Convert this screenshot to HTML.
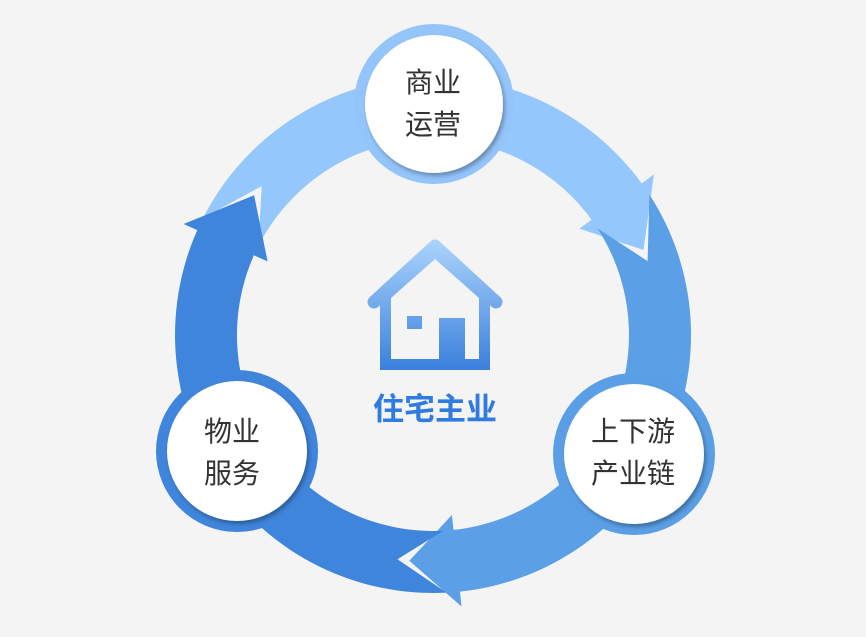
<!DOCTYPE html>
<html><head><meta charset="utf-8">
<style>
html,body{margin:0;padding:0;background:#f4f4f4;}
body{width:866px;height:632px;overflow:hidden;}
svg text{font-family:"Liberation Sans","Noto Sans CJK SC",sans-serif;}
</style></head>
<body>
<svg id="s" width="866" height="632" viewBox="0 0 866 632" xmlns="http://www.w3.org/2000/svg">
<defs>
<linearGradient id="hg" x1="0" y1="0" x2="0" y2="1">
<stop offset="0" stop-color="#a9d2fb"/><stop offset="1" stop-color="#3a80dc"/>
</linearGradient>
<linearGradient id="hg2" gradientUnits="userSpaceOnUse" x1="0" y1="243" x2="0" y2="370">
<stop offset="0" stop-color="#a9d2fb"/><stop offset="1" stop-color="#3a80dc"/>
</linearGradient>
<filter id="sh" x="-20%" y="-20%" width="140%" height="140%">
<feDropShadow dx="2" dy="3" stdDeviation="2" flood-color="#000" flood-opacity="0.3"/>
</filter>
</defs>
<g id="arcs"></g>

<!-- house -->
<g fill="none" stroke="url(#hg2)" stroke-width="13" stroke-linecap="round" stroke-linejoin="round">
<path d="M374 302 L435 246 L496 302"/>
</g>
<path d="M380 292 L380 370 L490 370 L490 292 L435 243 Z M391 298 L435 259 L479 298 L479 359 L391 359 Z" fill="url(#hg2)" fill-rule="evenodd"/>
<rect x="407" y="316" width="15" height="13" fill="url(#hg2)"/>
<rect x="439" y="318" width="26" height="45" fill="url(#hg2)"/>
<text x="435" y="420" text-anchor="middle" font-size="31" font-weight="bold" fill="#2f7bdf">住宅主业</text>

<!-- circles -->
<circle cx="434" cy="104" r="80" fill="#93c5fb"/>
<circle cx="434" cy="104" r="69" fill="#fff" filter="url(#sh)"/>
<text x="433" y="92" text-anchor="middle" font-size="28" fill="#333">商业</text>
<text x="433" y="134" text-anchor="middle" font-size="28" fill="#333">运营</text>

<circle cx="237" cy="451" r="81" fill="#3f85db"/>
<circle cx="237" cy="451" r="70" fill="#fff" filter="url(#sh)"/>
<text x="232" y="441" text-anchor="middle" font-size="28" fill="#333">物业</text>
<text x="232" y="483" text-anchor="middle" font-size="28" fill="#333">服务</text>

<circle cx="634" cy="454" r="81" fill="#5a9fe6"/>
<circle cx="634" cy="454" r="70" fill="#fff" filter="url(#sh)"/>
<text x="633" y="441" text-anchor="middle" font-size="28" fill="#333">上下游</text>
<text x="633" y="483" text-anchor="middle" font-size="28" fill="#333">产业链</text>
</svg>
<script>
(function(){
var cx=433,cy=335,R=258,r=196,m=227,W=15;
function P(rad,deg){var a=deg*Math.PI/180;return (cx+rad*Math.sin(a)).toFixed(1)+' '+(cy-rad*Math.cos(a)).toFixed(1);}
function seg(tailC,tailN,base,tip,col){
 var d='M'+P(R,tailC);
 var span=base-tailC; var large=span>180?1:0;
 d+=' A'+R+' '+R+' 0 '+large+' 1 '+P(R,base);
 d+=' L'+P(R+W,base)+' L'+P(m,tip)+' L'+P(r-W,base)+' L'+P(r,base);
 d+=' A'+r+' '+r+' 0 '+large+' 0 '+P(r,tailC);
 d+=' L'+P(m,tailN)+' Z';
 return '<path d="'+d+'" fill="'+col+'"/>';
}
var g='';
g+=seg(-63,-49,54,68,'#94c7fc');
g+=seg(57,71,174,186,'#5b9fe7');
g+=seg(177,189,294,308,'#3f85db');
document.getElementById('arcs').innerHTML=g;
})();
</script>
</body></html>
